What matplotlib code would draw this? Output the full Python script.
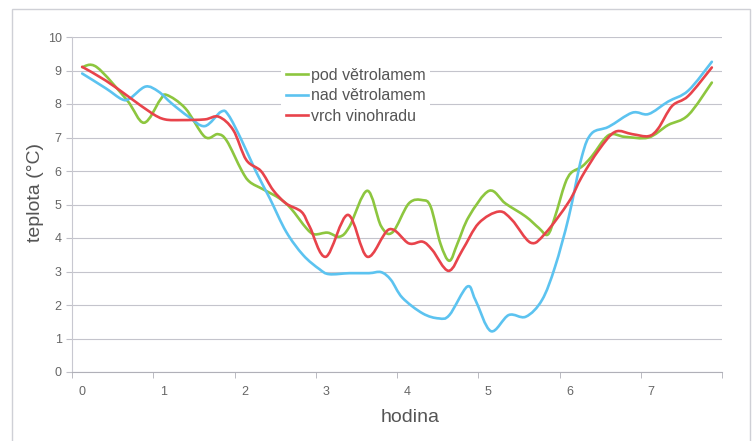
import matplotlib
matplotlib.use('Agg')
import matplotlib.pyplot as plt
import numpy as np
from matplotlib.path import Path
from matplotlib.patches import PathPatch, Rectangle
from matplotlib.lines import Line2D

plt.rcParams['font.family'] = ['Liberation Sans', 'DejaVu Sans']

# data (hour, temperature)
pod_x = [0, 0.18, 0.55, 0.76, 0.96, 1.04, 1.27, 1.51, 1.67, 1.78, 1.96, 2.06, 2.23, 2.43, 2.57,
         2.76, 2.86, 3.02, 3.17, 3.29, 3.51, 3.68, 3.82, 4.02, 4.19, 4.29, 4.41, 4.52, 4.62, 4.76,
         5.01, 5.21, 5.46, 5.62, 5.73, 5.82, 5.94, 6.02, 6.15, 6.27, 6.48, 6.68, 6.97, 7.21, 7.46, 7.75]
pod_y = [9.1, 9.1, 8.12, 7.44, 8.12, 8.27, 7.87, 7.02, 7.1, 6.9, 6.03, 5.68, 5.45, 5.18, 4.88,
         4.29, 4.11, 4.16, 4.04, 4.34, 5.41, 4.35, 4.17, 5.03, 5.13, 4.93, 3.83, 3.32, 3.84, 4.64,
         5.41, 5.03, 4.64, 4.3, 4.1, 4.64, 5.6, 5.95, 6.13, 6.43, 7.07, 7.02, 7.0, 7.37, 7.67, 8.64]

nad_x = [0, 0.29, 0.49, 0.59, 0.78, 0.94, 1.10, 1.31, 1.51, 1.71, 1.80, 1.96, 2.14, 2.31, 2.51,
         2.72, 2.92, 3.04, 3.29, 3.53, 3.68, 3.80, 3.94, 4.19, 4.39, 4.52, 4.74, 4.84, 5.03, 5.25, 5.46,
         5.66, 5.82, 5.99, 6.15, 6.27, 6.48, 6.77, 6.97, 7.21, 7.46, 7.75]
nad_y = [8.91, 8.47, 8.14, 8.17, 8.52, 8.37, 8.02, 7.62, 7.34, 7.77, 7.67, 6.93, 5.98, 5.18, 4.19,
         3.49, 3.07, 2.92, 2.95, 2.95, 2.98, 2.75, 2.22, 1.75, 1.60, 1.70, 2.55, 2.15, 1.22, 1.70, 1.65,
         2.15, 3.14, 4.64, 6.43, 7.12, 7.32, 7.74, 7.70, 8.07, 8.40, 9.26]

vrch_x = [0, 0.29, 0.57, 0.86, 1.02, 1.23, 1.51, 1.68, 1.86, 2.02, 2.20, 2.35, 2.51, 2.70, 2.80,
          3.00, 3.27, 3.51, 3.78, 4.02, 4.19, 4.31, 4.51, 4.68, 4.88, 5.13, 5.29, 5.52, 5.70, 5.99,
          6.15, 6.36, 6.56, 6.77, 6.97, 7.09, 7.26, 7.46, 7.75]
vrch_y = [9.11, 8.70, 8.22, 7.72, 7.54, 7.52, 7.54, 7.62, 7.22, 6.33, 6.0, 5.43, 5.03, 4.78, 4.34,
          3.44, 4.69, 3.44, 4.26, 3.84, 3.89, 3.64, 3.02, 3.64, 4.44, 4.79, 4.54, 3.86, 4.14, 5.08,
          5.83, 6.63, 7.17, 7.10, 7.04, 7.27, 7.94, 8.24, 9.09]

labels = ['pod větrolamem', 'nad větrolamem', 'vrch vinohradu']
colors = ['#8dc63f', '#5cc3f0', '#e8434b']


# smooth line like in Excel (bezier through the points)
def smooth_path(xs, ys):
    P = np.column_stack([xs, ys])
    n = len(P)
    verts = [P[0]]
    codes = [Path.MOVETO]
    for i in range(n - 1):
        p0 = P[i - 1] if i > 0 else P[i]
        p3 = P[i + 2] if i + 2 < n else P[i + 1]
        verts += [P[i] + (P[i + 1] - p0) / 6, P[i + 1] - (p3 - P[i]) / 6, P[i + 1]]
        codes += [Path.CURVE4] * 3
    return Path(verts, codes)


fig = plt.figure(figsize=(7.56, 4.41), dpi=100)
fig.patches.append(Rectangle((12 / 756, -0.1), 738 / 756, 432 / 441 + 0.1, transform=fig.transFigure,
                             fill=False, edgecolor='#cfd0d6', lw=1))
ax = fig.add_axes([72 / 756, 69 / 441, 650 / 756, 335 / 441])

series = [(pod_x, pod_y), (nad_x, nad_y), (vrch_x, vrch_y)]
for (xs, ys), c in zip(series, colors):
    ax.add_patch(PathPatch(smooth_path(xs, ys), fill=False, edgecolor=c, lw=1.9,
                           capstyle='round', joinstyle='round', zorder=3))

ax.set_xlim(-0.125, 7.875)
ax.set_ylim(0, 10)
ax.set_yticks(range(0, 11))
ax.set_xticks(range(0, 8))
ax.set_xticks(np.arange(-0.125, 7.9, 1), minor=True)
ax.tick_params(axis='x', which='major', length=0, pad=10, labelsize=9, labelcolor='#666666')
ax.tick_params(axis='x', which='minor', length=4, color='#b0b0b8', direction='out')
ax.tick_params(axis='y', length=4, color='#c0c0c8', pad=3.5, labelsize=9, labelcolor='#666666')
ax.grid(axis='y', color='#c4c4cc', lw=0.8)
ax.set_axisbelow(True)
for s in ['top', 'right']:
    ax.spines[s].set_visible(False)
ax.spines['left'].set_color('#c8c8d0')
ax.spines['bottom'].set_color('#b0b0b8')

fig.text(35 / 756, 1 - 192 / 441, 'teplota (°C)', rotation=90, ha='center', va='center',
         fontsize=14, color='#555555')
fig.text(410 / 756, 1 - 417 / 441, 'hodina', ha='center', va='center', fontsize=14, color='#555555')

handles = [Line2D([], [], color=c, lw=1.9) for c in colors]
leg = ax.legend(handles, labels, loc='upper left', bbox_to_anchor=(281 / 756, 1 - 63 / 441),
                bbox_transform=fig.transFigure, borderaxespad=0, borderpad=0.3, frameon=True,
                fancybox=False, edgecolor='none', facecolor='white', framealpha=1,
                fontsize=11.5, handlelength=1.4, handletextpad=0.15, labelspacing=0.34)
for t in leg.get_texts():
    t.set_color('#555555')

fig.savefig('out.png', dpi=100)
